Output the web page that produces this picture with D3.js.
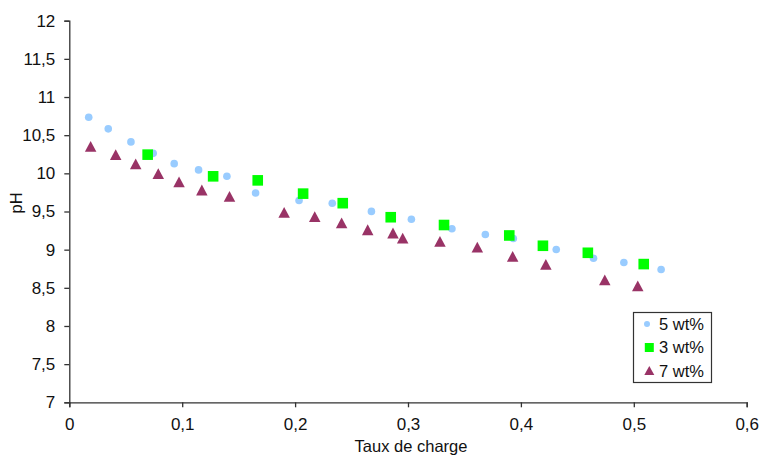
<!DOCTYPE html>
<html><head><meta charset="utf-8">
<script src="https://cdn.jsdelivr.net/npm/d3@7"></script>
<style>
html,body{margin:0;padding:0;background:#fff;}
svg{display:block;font-family:"Liberation Sans",Arial,sans-serif;}
</style></head>
<body>
<svg id="c" width="762" height="457"></svg>
<script>
// Data
const seriesNames = ["5 wt%", "3 wt%", "7 wt%"];
const x5 = [0.0172,0.0345,0.0546,0.0743,0.0929,0.1145,0.1396,0.165,0.2035,0.2329,0.2676,0.303,0.3389,0.3685,0.3933,0.4313,0.4643,0.4912,0.5242];
const y5 = [10.735,10.583,10.412,10.262,10.127,10.045,9.961,9.743,9.644,9.609,9.501,9.399,9.274,9.199,9.147,9.003,8.887,8.832,8.740];
const x3 = [0.0694,0.1274,0.1669,0.2071,0.2422,0.2847,0.3319,0.3897,0.4195,0.4593,0.5088];
const y3 = [10.245,9.961,9.908,9.734,9.609,9.425,9.323,9.186,9.051,8.959,8.811];
const x7 = [0.0189,0.0411,0.0588,0.0788,0.0972,0.1174,0.1419,0.1903,0.2174,0.2412,0.2643,0.2867,0.2953,0.3283,0.3614,0.3927,0.4221,0.4743,0.5035];
const y7 = [10.354,10.245,10.123,9.996,9.887,9.782,9.698,9.488,9.432,9.350,9.261,9.218,9.152,9.109,9.034,8.912,8.807,8.605,8.526];
const xTicks = [0,0.1,0.2,0.3,0.4,0.5,0.6];
const yTicks = [7,7.5,8,8.5,9,9.5,10,10.5,11,11.5,12];
const xTitle = "Taux de charge";
const yTitle = "pH";

const svg = d3.select("#c");
const mLeft = 69.3, mRight = 746.7, mTop = 20.7, mBottom = 402.3;
const x = d3.scaleLinear().domain([0,0.6]).range([mLeft,mRight]);
const y = d3.scaleLinear().domain([7,12]).range([mBottom,mTop]);
const fmt = d => String(d).replace(".", ",");
const axisColor = "#333";

const gx = svg.append("g").attr("transform",`translate(0,${mBottom})`)
  .call(d3.axisBottom(x).tickValues(xTicks).tickFormat(fmt).tickSize(5).tickPadding(8));
const gy = svg.append("g").attr("transform",`translate(${mLeft},0)`)
  .call(d3.axisLeft(y).tickValues(yTicks).tickFormat(fmt).tickSize(5).tickPadding(9));
[gx,gy].forEach(g=>{
  g.select(".domain").attr("stroke",axisColor).attr("stroke-width",1.3);
  g.selectAll(".tick line").attr("stroke",axisColor).attr("stroke-width",1.3);
  g.selectAll(".tick text").attr("fill","#111").style("font-size","17px").style("font-family","'Liberation Sans',Arial,sans-serif");
});
gx.selectAll(".tick text").attr("dy","0.85em");

svg.append("text").attr("x",(mLeft+mRight)/2+3).attr("y",452).attr("text-anchor","middle")
  .style("font-size","16.5px").attr("fill","#111").text(xTitle);
svg.append("text").attr("transform","translate(22,203) rotate(-90)").attr("text-anchor","middle")
  .style("font-size","16.5px").attr("fill","#111").text(yTitle);

const c5 = "#99CCFF", c3 = "#00FF00", c7 = "#993366";
const pts5 = x5.map((v,i)=>[v,y5[i]]);
const pts3 = x3.map((v,i)=>[v,y3[i]]);
const pts7 = x7.map((v,i)=>[v,y7[i]]);

svg.append("g").selectAll("circle").data(pts5).join("circle")
  .attr("cx",d=>x(d[0])).attr("cy",d=>y(d[1])).attr("r",3.8).attr("fill",c5);
const sq = 10.6;
svg.append("g").selectAll("rect").data(pts3).join("rect")
  .attr("x",d=>x(d[0])-sq/2).attr("y",d=>y(d[1])-sq/2).attr("width",sq).attr("height",sq).attr("fill",c3);
const tri = (cx,cy,w,h)=>`M${cx-w/2},${cy+h/2}L${cx+w/2},${cy+h/2}L${cx},${cy-h/2}Z`;
svg.append("g").selectAll("path").data(pts7).join("path")
  .attr("d",d=>tri(x(d[0]),y(d[1]),11.5,10.8)).attr("fill",c7);

// Legend
const lg = svg.append("g");
lg.append("rect").attr("x",633.5).attr("y",312.5).attr("width",78).attr("height",70)
  .attr("fill","#fff").attr("stroke","#333").attr("stroke-width",1.2);
const ly = [324,347.5,371];
lg.append("circle").attr("cx",647).attr("cy",ly[0]).attr("r",3).attr("fill",c5);
lg.append("rect").attr("x",649.3-4.5).attr("y",ly[1]-4.5).attr("width",9).attr("height",9).attr("fill",c3);
lg.append("path").attr("d",tri(649.3,ly[2]-0.5,10,9)).attr("fill",c7);
seriesNames.forEach((n,i)=>{
  lg.append("text").attr("x",659).attr("y",ly[i]).attr("dy","0.36em")
    .style("font-size","16.5px").attr("fill","#111").text(n);
});
</script>
</body></html>
